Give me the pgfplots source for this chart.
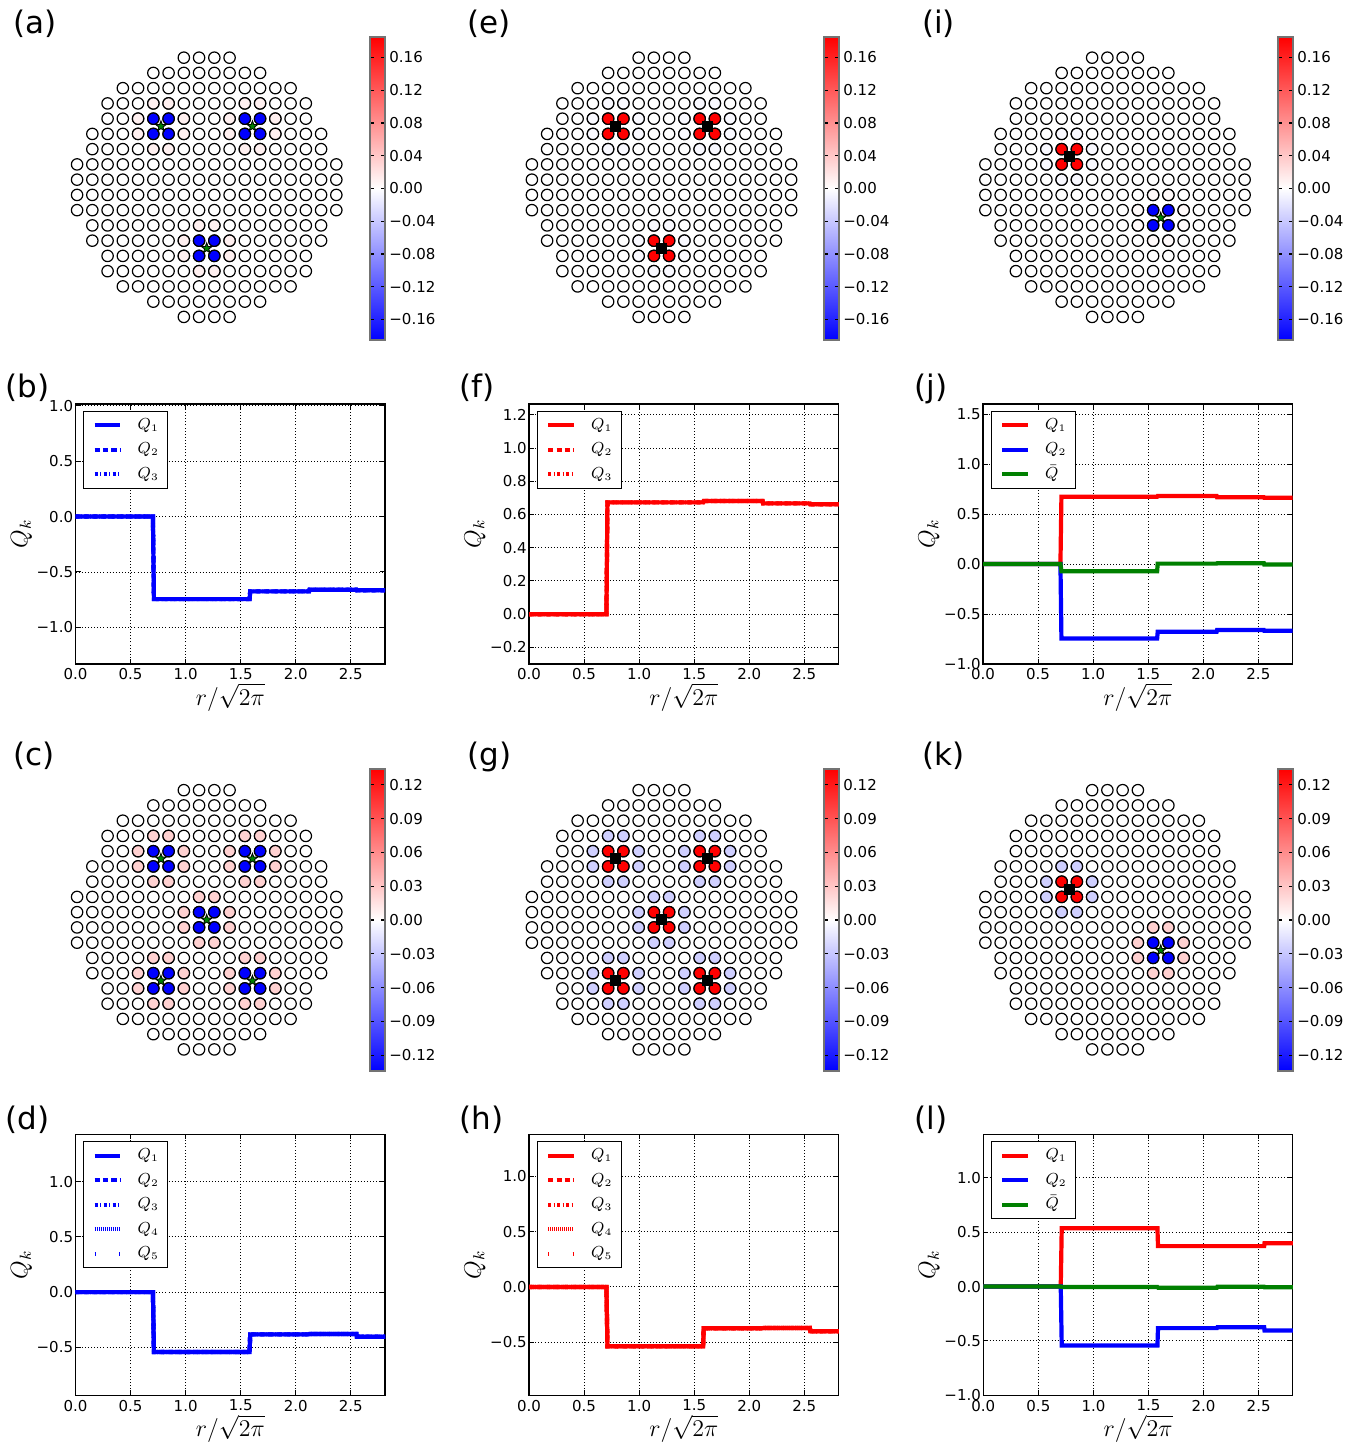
\documentclass[border=0pt]{standalone}
\usepackage{fontspec}
\setmainfont{DejaVu Sans}
\usepackage{pgfplots}
\usepackage{pgfplotstable}
\pgfplotsset{compat=1.18}
\usetikzlibrary{plotmarks}

\newcommand\tf{\fontsize{7.5}{9}\selectfont}
\newcommand\lf{\fontsize{12}{14}\selectfont}
\newcommand\pf{\fontsize{15.5}{18}\selectfont}
\newcommand\legf{\fontsize{7.8}{9}\selectfont}
\definecolor{mplgreen}{rgb}{0,0.5,0}

\pgfdeclareplotmark{fstar}{%
 \pgfpathmoveto{\pgfpointpolar{90}{\pgfplotmarksize}}%
 \pgfpathlineto{\pgfpointpolar{126}{0.4\pgfplotmarksize}}%
 \pgfpathlineto{\pgfpointpolar{162}{\pgfplotmarksize}}%
 \pgfpathlineto{\pgfpointpolar{198}{0.4\pgfplotmarksize}}%
 \pgfpathlineto{\pgfpointpolar{234}{\pgfplotmarksize}}%
 \pgfpathlineto{\pgfpointpolar{270}{0.4\pgfplotmarksize}}%
 \pgfpathlineto{\pgfpointpolar{306}{\pgfplotmarksize}}%
 \pgfpathlineto{\pgfpointpolar{342}{0.4\pgfplotmarksize}}%
 \pgfpathlineto{\pgfpointpolar{18}{\pgfplotmarksize}}%
 \pgfpathlineto{\pgfpointpolar{54}{0.4\pgfplotmarksize}}%
 \pgfpathclose
 \pgfusepathqfillstroke
}

% lattice sites
\pgfplotstableread[row sep=\\]{
x y\\
-1.5 8.5\\ -0.5 8.5\\ 0.5 8.5\\ 1.5 8.5\\
-3.5 7.5\\ -2.5 7.5\\ -1.5 7.5\\ -0.5 7.5\\ 0.5 7.5\\ 1.5 7.5\\ 2.5 7.5\\ 3.5 7.5\\
-5.5 6.5\\ -4.5 6.5\\ -3.5 6.5\\ -2.5 6.5\\ -1.5 6.5\\ -0.5 6.5\\ 0.5 6.5\\ 1.5 6.5\\ 2.5 6.5\\ 3.5 6.5\\ 4.5 6.5\\ 5.5 6.5\\
-6.5 5.5\\ -5.5 5.5\\ -4.5 5.5\\ -3.5 5.5\\ -2.5 5.5\\ -1.5 5.5\\ -0.5 5.5\\ 0.5 5.5\\ 1.5 5.5\\ 2.5 5.5\\ 3.5 5.5\\ 4.5 5.5\\ 5.5 5.5\\ 6.5 5.5\\
-6.5 4.5\\ -5.5 4.5\\ -4.5 4.5\\ -3.5 4.5\\ -2.5 4.5\\ -1.5 4.5\\ -0.5 4.5\\ 0.5 4.5\\ 1.5 4.5\\ 2.5 4.5\\ 3.5 4.5\\ 4.5 4.5\\ 5.5 4.5\\ 6.5 4.5\\
-7.5 3.5\\ -6.5 3.5\\ -5.5 3.5\\ -4.5 3.5\\ -3.5 3.5\\ -2.5 3.5\\ -1.5 3.5\\ -0.5 3.5\\ 0.5 3.5\\ 1.5 3.5\\ 2.5 3.5\\ 3.5 3.5\\ 4.5 3.5\\ 5.5 3.5\\ 6.5 3.5\\ 7.5 3.5\\
-7.5 2.5\\ -6.5 2.5\\ -5.5 2.5\\ -4.5 2.5\\ -3.5 2.5\\ -2.5 2.5\\ -1.5 2.5\\ -0.5 2.5\\ 0.5 2.5\\ 1.5 2.5\\ 2.5 2.5\\ 3.5 2.5\\ 4.5 2.5\\ 5.5 2.5\\ 6.5 2.5\\ 7.5 2.5\\
-8.5 1.5\\ -7.5 1.5\\ -6.5 1.5\\ -5.5 1.5\\ -4.5 1.5\\ -3.5 1.5\\ -2.5 1.5\\ -1.5 1.5\\ -0.5 1.5\\ 0.5 1.5\\ 1.5 1.5\\ 2.5 1.5\\ 3.5 1.5\\ 4.5 1.5\\ 5.5 1.5\\ 6.5 1.5\\ 7.5 1.5\\ 8.5 1.5\\
-8.5 0.5\\ -7.5 0.5\\ -6.5 0.5\\ -5.5 0.5\\ -4.5 0.5\\ -3.5 0.5\\ -2.5 0.5\\ -1.5 0.5\\ -0.5 0.5\\ 0.5 0.5\\ 1.5 0.5\\ 2.5 0.5\\ 3.5 0.5\\ 4.5 0.5\\ 5.5 0.5\\ 6.5 0.5\\ 7.5 0.5\\ 8.5 0.5\\
-8.5 -0.5\\ -7.5 -0.5\\ -6.5 -0.5\\ -5.5 -0.5\\ -4.5 -0.5\\ -3.5 -0.5\\ -2.5 -0.5\\ -1.5 -0.5\\ -0.5 -0.5\\ 0.5 -0.5\\ 1.5 -0.5\\ 2.5 -0.5\\ 3.5 -0.5\\ 4.5 -0.5\\ 5.5 -0.5\\ 6.5 -0.5\\ 7.5 -0.5\\ 8.5 -0.5\\
-8.5 -1.5\\ -7.5 -1.5\\ -6.5 -1.5\\ -5.5 -1.5\\ -4.5 -1.5\\ -3.5 -1.5\\ -2.5 -1.5\\ -1.5 -1.5\\ -0.5 -1.5\\ 0.5 -1.5\\ 1.5 -1.5\\ 2.5 -1.5\\ 3.5 -1.5\\ 4.5 -1.5\\ 5.5 -1.5\\ 6.5 -1.5\\ 7.5 -1.5\\ 8.5 -1.5\\
-7.5 -2.5\\ -6.5 -2.5\\ -5.5 -2.5\\ -4.5 -2.5\\ -3.5 -2.5\\ -2.5 -2.5\\ -1.5 -2.5\\ -0.5 -2.5\\ 0.5 -2.5\\ 1.5 -2.5\\ 2.5 -2.5\\ 3.5 -2.5\\ 4.5 -2.5\\ 5.5 -2.5\\ 6.5 -2.5\\ 7.5 -2.5\\
-7.5 -3.5\\ -6.5 -3.5\\ -5.5 -3.5\\ -4.5 -3.5\\ -3.5 -3.5\\ -2.5 -3.5\\ -1.5 -3.5\\ -0.5 -3.5\\ 0.5 -3.5\\ 1.5 -3.5\\ 2.5 -3.5\\ 3.5 -3.5\\ 4.5 -3.5\\ 5.5 -3.5\\ 6.5 -3.5\\ 7.5 -3.5\\
-6.5 -4.5\\ -5.5 -4.5\\ -4.5 -4.5\\ -3.5 -4.5\\ -2.5 -4.5\\ -1.5 -4.5\\ -0.5 -4.5\\ 0.5 -4.5\\ 1.5 -4.5\\ 2.5 -4.5\\ 3.5 -4.5\\ 4.5 -4.5\\ 5.5 -4.5\\ 6.5 -4.5\\
-6.5 -5.5\\ -5.5 -5.5\\ -4.5 -5.5\\ -3.5 -5.5\\ -2.5 -5.5\\ -1.5 -5.5\\ -0.5 -5.5\\ 0.5 -5.5\\ 1.5 -5.5\\ 2.5 -5.5\\ 3.5 -5.5\\ 4.5 -5.5\\ 5.5 -5.5\\ 6.5 -5.5\\
-5.5 -6.5\\ -4.5 -6.5\\ -3.5 -6.5\\ -2.5 -6.5\\ -1.5 -6.5\\ -0.5 -6.5\\ 0.5 -6.5\\ 1.5 -6.5\\ 2.5 -6.5\\ 3.5 -6.5\\ 4.5 -6.5\\ 5.5 -6.5\\
-3.5 -7.5\\ -2.5 -7.5\\ -1.5 -7.5\\ -0.5 -7.5\\ 0.5 -7.5\\ 1.5 -7.5\\ 2.5 -7.5\\ 3.5 -7.5\\
-1.5 -8.5\\ -0.5 -8.5\\ 0.5 -8.5\\ 1.5 -8.5\\
}\lattice

% site values for panels (a) and (e)
\pgfplotstableread[row sep=\\]{
x y a e\\
-3.5 4.5 -0.185 0.185\\ -2.5 4.5 -0.185 0.185\\ -3.5 3.5 -0.185 0.185\\ -2.5 3.5 -0.185 0.185\\
2.5 4.5 -0.185 0.185\\ 3.5 4.5 -0.185 0.185\\ 2.5 3.5 -0.185 0.185\\ 3.5 3.5 -0.185 0.185\\
-0.5 -3.5 -0.185 0.185\\ 0.5 -3.5 -0.185 0.185\\ -0.5 -4.5 -0.185 0.185\\ 0.5 -4.5 -0.185 0.185\\
-4.5 4.5 0.011 -0.004\\ -1.5 4.5 0.011 -0.004\\ -4.5 3.5 0.011 -0.004\\ -1.5 3.5 0.011 -0.004\\
-3.5 5.5 0.011 -0.004\\ -2.5 5.5 0.011 -0.004\\ -3.5 2.5 0.011 -0.004\\ -2.5 2.5 0.011 -0.004\\
1.5 4.5 0.011 -0.004\\ 4.5 4.5 0.011 -0.004\\ 1.5 3.5 0.011 -0.004\\ 4.5 3.5 0.011 -0.004\\
2.5 5.5 0.011 -0.004\\ 3.5 5.5 0.011 -0.004\\ 2.5 2.5 0.011 -0.004\\ 3.5 2.5 0.011 -0.004\\
-1.5 -3.5 0.011 -0.004\\ 1.5 -3.5 0.011 -0.004\\ -1.5 -4.5 0.011 -0.004\\ 1.5 -4.5 0.011 -0.004\\
-0.5 -2.5 0.011 -0.004\\ 0.5 -2.5 0.011 -0.004\\ -0.5 -5.5 0.011 -0.004\\ 0.5 -5.5 0.011 -0.004\\
}\tabAE

% site values for panels (c) and (g)
\pgfplotstableread[row sep=\\]{
x y c g\\
-3.5 4.5 -0.134 0.134\\ -2.5 4.5 -0.134 0.134\\ -3.5 3.5 -0.134 0.134\\ -2.5 3.5 -0.134 0.134\\
2.5 4.5 -0.134 0.134\\ 3.5 4.5 -0.134 0.134\\ 2.5 3.5 -0.134 0.134\\ 3.5 3.5 -0.134 0.134\\
-0.5 0.5 -0.134 0.134\\ 0.5 0.5 -0.134 0.134\\ -0.5 -0.5 -0.134 0.134\\ 0.5 -0.5 -0.134 0.134\\
-3.5 -3.5 -0.134 0.134\\ -2.5 -3.5 -0.134 0.134\\ -3.5 -4.5 -0.134 0.134\\ -2.5 -4.5 -0.134 0.134\\
2.5 -3.5 -0.134 0.134\\ 3.5 -3.5 -0.134 0.134\\ 2.5 -4.5 -0.134 0.134\\ 3.5 -4.5 -0.134 0.134\\
-4.5 4.5 0.024 -0.025\\ -1.5 4.5 0.024 -0.025\\ -4.5 3.5 0.024 -0.025\\ -1.5 3.5 0.024 -0.025\\
-3.5 5.5 0.024 -0.025\\ -2.5 5.5 0.024 -0.025\\ -3.5 2.5 0.024 -0.025\\ -2.5 2.5 0.024 -0.025\\
1.5 4.5 0.024 -0.025\\ 4.5 4.5 0.024 -0.025\\ 1.5 3.5 0.024 -0.025\\ 4.5 3.5 0.024 -0.025\\
2.5 5.5 0.024 -0.025\\ 3.5 5.5 0.024 -0.025\\ 2.5 2.5 0.024 -0.025\\ 3.5 2.5 0.024 -0.025\\
-1.5 0.5 0.024 -0.025\\ 1.5 0.5 0.024 -0.025\\ -1.5 -0.5 0.024 -0.025\\ 1.5 -0.5 0.024 -0.025\\
-0.5 1.5 0.024 -0.025\\ 0.5 1.5 0.024 -0.025\\ -0.5 -1.5 0.024 -0.025\\ 0.5 -1.5 0.024 -0.025\\
-4.5 -3.5 0.024 -0.025\\ -1.5 -3.5 0.024 -0.025\\ -4.5 -4.5 0.024 -0.025\\ -1.5 -4.5 0.024 -0.025\\
-3.5 -2.5 0.024 -0.025\\ -2.5 -2.5 0.024 -0.025\\ -3.5 -5.5 0.024 -0.025\\ -2.5 -5.5 0.024 -0.025\\
1.5 -3.5 0.024 -0.025\\ 4.5 -3.5 0.024 -0.025\\ 1.5 -4.5 0.024 -0.025\\ 4.5 -4.5 0.024 -0.025\\
2.5 -2.5 0.024 -0.025\\ 3.5 -2.5 0.024 -0.025\\ 2.5 -5.5 0.024 -0.025\\ 3.5 -5.5 0.024 -0.025\\
}\tabCG

% site values for panels (i) and (k)
\pgfplotstableread[row sep=\\]{
x y i k\\
-3.5 2.5 0.185 0.134\\ -2.5 2.5 0.185 0.134\\ -3.5 1.5 0.185 0.134\\ -2.5 1.5 0.185 0.134\\
2.5 -1.5 -0.185 -0.134\\ 3.5 -1.5 -0.185 -0.134\\ 2.5 -2.5 -0.185 -0.134\\ 3.5 -2.5 -0.185 -0.134\\
-4.5 2.5 -0.004 -0.025\\ -1.5 2.5 -0.004 -0.025\\ -4.5 1.5 -0.004 -0.025\\ -1.5 1.5 -0.004 -0.025\\
-3.5 3.5 -0.004 -0.025\\ -2.5 3.5 -0.004 -0.025\\ -3.5 0.5 -0.004 -0.025\\ -2.5 0.5 -0.004 -0.025\\
1.5 -1.5 0.004 0.025\\ 4.5 -1.5 0.004 0.025\\ 1.5 -2.5 0.004 0.025\\ 4.5 -2.5 0.004 0.025\\
2.5 -0.5 0.004 0.025\\ 3.5 -0.5 0.004 0.025\\ 2.5 -3.5 0.004 0.025\\ 3.5 -3.5 0.004 0.025\\
}\tabIK

\pgfplotsset{
  latt/.style={
    scale only axis, width=137.25pt, height=137.25pt,
    xmin=-9, xmax=9, ymin=-9, ymax=9, hide axis, anchor=center, clip=false,
    colormap={bwr}{rgb=(0,0,1) rgb=(1,1,1) rgb=(1,0,0)},
    colorbar,
    colorbar shift/.style={},
    colorbar style={
      at={(parent axis.north east)}, anchor=north west,
      scale only axis, width=7.5pt,
      yticklabel style={font=\tf, inner sep=0pt, xshift=2pt},
      tick align=inside, major tick length=2pt,
      ytick style={black, line width=0.6pt},
      axis line style={draw=black!55, line width=0.6pt},
    },
  },
  cbA/.style={point meta min=-0.185, point meta max=0.185,
    colorbar style={height=151.5pt,
      ytick={-0.16,-0.12,-0.08,-0.04,0,0.04,0.08,0.12,0.16},
      yticklabels={−0.16,−0.12,−0.08,−0.04,0.00,0.04,0.08,0.12,0.16}}},
  cbC/.style={point meta min=-0.134, point meta max=0.134,
    colorbar style={height=151pt,
      ytick={-0.12,-0.09,-0.06,-0.03,0,0.03,0.06,0.09,0.12},
      yticklabels={−0.12,−0.09,−0.06,−0.03,0.00,0.03,0.06,0.09,0.12}}},
  circ/.style={only marks, mark=*, mark size=2.85pt,
    mark options={draw=black, fill=white, line width=0.6pt}},
  colpts/.style={scatter, only marks, mark=*, mark size=2.85pt, point meta=explicit,
    scatter/use mapped color={draw=black, fill=mapped color, line width=0.6pt}},
  stars/.style={only marks, mark=fstar, mark size=2.8pt,
    mark options={draw=black, fill=mplgreen, line width=0.4pt}},
  sqs/.style={only marks, mark=square*, mark size=2.5pt,
    mark options={draw=black, fill=black}},
  lp/.style={
    scale only axis, width=154.75pt, anchor=north west,
    xmin=0, xmax=2.81,
    xtick={0,0.5,1,1.5,2,2.5}, xticklabels={0.0,0.5,1.0,1.5,2.0,2.5},
    grid=major, grid style={black, line width=0.45pt, dash pattern=on 0.45pt off 1.1pt},
    tick align=inside, major tick length=2.5pt, tick style={black, line width=0.5pt},
    axis line style={black, line width=0.6pt},
    xticklabel style={font=\tf, inner sep=0pt, yshift=-2.1pt},
    yticklabel style={font=\tf, inner sep=0pt, xshift=-1pt},
    xlabel={$r/\sqrt{2\pi}$}, ylabel={$Q_k$},
    xlabel style={font=\lf, at={(axis description cs:0.5,0)}, anchor=base, yshift=-20.5pt},
    ylabel style={font=\lf, at={(axis description cs:-0.1745,0.5)}, anchor=center},
    legend cell align=left,
    legend style={draw=black, line width=0.5pt, fill=white, at={(0,1)}, anchor=north west,
      xshift=3.75pt, yshift=-3.25pt, inner xsep=4.5pt, inner ysep=3.65pt,
      row sep=5.25pt, column sep=7.7pt,
      nodes={font=\legf, inner sep=0pt, text height=5.5pt, text depth=1.5pt}},
    legend image code/.code={\draw[#1] (0pt,0pt) -- (12.8pt,0pt);},
    every axis plot/.append style={line width=2.1pt},
  },
  q2/.style={dash pattern=on 2.6pt off 1.6pt},
  q3/.style={dash pattern=on 1.6pt off 1.2pt on 0.5pt off 1.2pt},
  q4/.style={dash pattern=on 0.5pt off 0.5pt},
  q5/.style={dash pattern=on 0.6pt off 11.6pt},
}

\begin{document}
\begin{tikzpicture}
\useasboundingbox (0,0) rectangle (683.5pt,-724.5pt);

% ---------- (a)
\begin{axis}[latt, cbA, at={(103.35pt,-93.65pt)}, colorbar style={xshift=13.03pt, yshift=6.53pt}]
\addplot[circ] table {\lattice};
\addplot[colpts] table[meta=a] {\tabAE};
\addplot[stars] coordinates {(-3,4) (3,4) (0,-4)};
\end{axis}
% ---------- (e)
\begin{axis}[latt, cbA, at={(330.75pt,-93.65pt)}, colorbar style={xshift=12.63pt, yshift=6.53pt}]
\addplot[circ] table {\lattice};
\addplot[colpts] table[meta=e] {\tabAE};
\addplot[sqs] coordinates {(-3,4) (3,4) (0,-4)};
\end{axis}
% ---------- (i)
\begin{axis}[latt, cbA, at={(557.5pt,-93.65pt)}, colorbar style={xshift=12.88pt, yshift=6.53pt}]
\addplot[circ] table {\lattice};
\addplot[colpts] table[meta=i] {\tabIK};
\addplot[sqs] coordinates {(-3,2)};
\addplot[stars] coordinates {(3,-2)};
\end{axis}
% ---------- (c)
\begin{axis}[latt, cbC, at={(103.35pt,-459.9pt)}, colorbar style={xshift=13.03pt, yshift=6.78pt}]
\addplot[circ] table {\lattice};
\addplot[colpts] table[meta=c] {\tabCG};
\addplot[stars] coordinates {(-3,4) (3,4) (0,0) (-3,-4) (3,-4)};
\end{axis}
% ---------- (g)
\begin{axis}[latt, cbC, at={(330.75pt,-459.9pt)}, colorbar style={xshift=12.63pt, yshift=6.78pt}]
\addplot[circ] table {\lattice};
\addplot[colpts] table[meta=g] {\tabCG};
\addplot[sqs] coordinates {(-3,4) (3,4) (0,0) (-3,-4) (3,-4)};
\end{axis}
% ---------- (k)
\begin{axis}[latt, cbC, at={(557.5pt,-459.9pt)}, colorbar style={xshift=12.88pt, yshift=6.78pt}]
\addplot[circ] table {\lattice};
\addplot[colpts] table[meta=k] {\tabIK};
\addplot[sqs] coordinates {(-3,2)};
\addplot[stars] coordinates {(3,-2)};
\end{axis}

% ---------- (b)
\begin{axis}[lp, at={(37.75pt,-202pt)}, height=130pt, ymin=-1.33, ymax=1.015,
  ytick={-1,-0.5,0,0.5,1}, yticklabels={−1.0,−0.5,0.0,0.5,1.0}]
\addplot[blue] coordinates {(0,0) (0.703,0) (0.712,-0.745) (1.581,-0.745) (1.586,-0.675) (2.121,-0.675) (2.125,-0.66) (2.55,-0.66) (2.553,-0.665) (2.81,-0.665)};
\addlegendentry{$Q_1$}
\addplot[blue,q2] coordinates {(0,0) (0.703,0) (0.712,-0.745) (1.581,-0.745) (1.586,-0.675) (2.121,-0.675) (2.125,-0.66) (2.55,-0.66) (2.553,-0.665) (2.81,-0.665)};
\addlegendentry{$Q_2$}
\addplot[blue,q3] coordinates {(0,0) (0.703,0) (0.712,-0.745) (1.581,-0.745) (1.586,-0.675) (2.121,-0.675) (2.125,-0.66) (2.55,-0.66) (2.553,-0.665) (2.81,-0.665)};
\addlegendentry{$Q_3$}
\end{axis}
% ---------- (f)
\begin{axis}[lp, at={(264.5pt,-202pt)}, height=130pt, ymin=-0.3, ymax=1.265,
  ytick={-0.2,0,0.2,0.4,0.6,0.8,1.0,1.2}, yticklabels={−0.2,0.0,0.2,0.4,0.6,0.8,1.0,1.2}]
\addplot[red] coordinates {(0,0) (0.703,0) (0.712,0.673) (1.581,0.673) (1.586,0.681) (2.121,0.681) (2.125,0.667) (2.55,0.667) (2.553,0.662) (2.81,0.662)};
\addlegendentry{$Q_1$}
\addplot[red,q2] coordinates {(0,0) (0.703,0) (0.712,0.673) (1.581,0.673) (1.586,0.681) (2.121,0.681) (2.125,0.667) (2.55,0.667) (2.553,0.662) (2.81,0.662)};
\addlegendentry{$Q_2$}
\addplot[red,q3] coordinates {(0,0) (0.703,0) (0.712,0.673) (1.581,0.673) (1.586,0.681) (2.121,0.681) (2.125,0.667) (2.55,0.667) (2.553,0.662) (2.81,0.662)};
\addlegendentry{$Q_3$}
\end{axis}
% ---------- (j)
\begin{axis}[lp, at={(491.5pt,-202pt)}, height=130pt, ymin=-1.0, ymax=1.6,
  ytick={-1,-0.5,0,0.5,1,1.5}, yticklabels={−1.0,−0.5,0.0,0.5,1.0,1.5}]
\addplot[red] coordinates {(0,0) (0.703,0) (0.712,0.673) (1.581,0.673) (1.586,0.681) (2.121,0.681) (2.125,0.667) (2.55,0.667) (2.553,0.662) (2.81,0.662)};
\addlegendentry{$Q_1$}
\addplot[blue] coordinates {(0,0) (0.703,0) (0.712,-0.745) (1.581,-0.745) (1.586,-0.677) (2.121,-0.677) (2.125,-0.66) (2.55,-0.66) (2.553,-0.667) (2.81,-0.667)};
\addlegendentry{$Q_2$}
\addplot[mplgreen] coordinates {(0,0) (0.703,0) (0.712,-0.072) (1.581,-0.072) (1.586,0.004) (2.121,0.004) (2.125,0.007) (2.55,0.007) (2.553,-0.004) (2.81,-0.004)};
\addlegendentry{$\bar{Q}$}
\end{axis}
% ---------- (d)
\begin{axis}[lp, at={(37.75pt,-567.15pt)}, height=130.5pt, ymin=-0.935, ymax=1.43,
  ytick={-0.5,0,0.5,1}, yticklabels={−0.5,0.0,0.5,1.0}]
\addplot[blue] coordinates {(0,0) (0.703,0) (0.712,-0.543) (1.581,-0.543) (1.586,-0.383) (2.121,-0.383) (2.125,-0.379) (2.55,-0.379) (2.553,-0.405) (2.81,-0.405)};
\addlegendentry{$Q_1$}
\addplot[blue,q2] coordinates {(0,0) (0.703,0) (0.712,-0.543) (1.581,-0.543) (1.586,-0.383) (2.121,-0.383) (2.125,-0.379) (2.55,-0.379) (2.553,-0.405) (2.81,-0.405)};
\addlegendentry{$Q_2$}
\addplot[blue,q3] coordinates {(0,0) (0.703,0) (0.712,-0.543) (1.581,-0.543) (1.586,-0.383) (2.121,-0.383) (2.125,-0.379) (2.55,-0.379) (2.553,-0.405) (2.81,-0.405)};
\addlegendentry{$Q_3$}
\addplot[blue,q4] coordinates {(0,0) (0.703,0) (0.712,-0.543) (1.581,-0.543) (1.586,-0.383) (2.121,-0.383) (2.125,-0.379) (2.55,-0.379) (2.553,-0.405) (2.81,-0.405)};
\addlegendentry{$Q_4$}
\addplot[blue,q5] coordinates {(0,0) (0.703,0) (0.712,-0.543) (1.581,-0.543) (1.586,-0.383) (2.121,-0.383) (2.125,-0.379) (2.55,-0.379) (2.553,-0.405) (2.81,-0.405)};
\addlegendentry{$Q_5$}
\end{axis}
% ---------- (h)
\begin{axis}[lp, at={(264.5pt,-567.15pt)}, height=130.5pt, ymin=-0.98, ymax=1.38,
  ytick={-0.5,0,0.5,1}, yticklabels={−0.5,0.0,0.5,1.0}]
\addplot[red] coordinates {(0,0) (0.703,0) (0.712,-0.536) (1.581,-0.536) (1.586,-0.373) (2.121,-0.373) (2.125,-0.372) (2.55,-0.372) (2.553,-0.40) (2.81,-0.40)};
\addlegendentry{$Q_1$}
\addplot[red,q2] coordinates {(0,0) (0.703,0) (0.712,-0.536) (1.581,-0.536) (1.586,-0.373) (2.121,-0.373) (2.125,-0.372) (2.55,-0.372) (2.553,-0.40) (2.81,-0.40)};
\addlegendentry{$Q_2$}
\addplot[red,q3] coordinates {(0,0) (0.703,0) (0.712,-0.536) (1.581,-0.536) (1.586,-0.373) (2.121,-0.373) (2.125,-0.372) (2.55,-0.372) (2.553,-0.40) (2.81,-0.40)};
\addlegendentry{$Q_3$}
\addplot[red,q4] coordinates {(0,0) (0.703,0) (0.712,-0.536) (1.581,-0.536) (1.586,-0.373) (2.121,-0.373) (2.125,-0.372) (2.55,-0.372) (2.553,-0.40) (2.81,-0.40)};
\addlegendentry{$Q_4$}
\addplot[red,q5] coordinates {(0,0) (0.703,0) (0.712,-0.536) (1.581,-0.536) (1.586,-0.373) (2.121,-0.373) (2.125,-0.372) (2.55,-0.372) (2.553,-0.40) (2.81,-0.40)};
\addlegendentry{$Q_5$}
\end{axis}
% ---------- (l)
\begin{axis}[lp, at={(491.65pt,-567.15pt)}, height=130.5pt, ymin=-1.0, ymax=1.4,
  ytick={-1,-0.5,0,0.5,1}, yticklabels={−1.0,−0.5,0.0,0.5,1.0}]
\addplot[red] coordinates {(0,0) (0.703,0) (0.712,0.537) (1.581,0.537) (1.586,0.372) (2.121,0.372) (2.125,0.372) (2.55,0.372) (2.553,0.398) (2.81,0.398)};
\addlegendentry{$Q_1$}
\addplot[blue] coordinates {(0,0) (0.703,0) (0.712,-0.541) (1.581,-0.541) (1.586,-0.382) (2.121,-0.382) (2.125,-0.374) (2.55,-0.374) (2.553,-0.404) (2.81,-0.404)};
\addlegendentry{$Q_2$}
\addplot[mplgreen] coordinates {(0,0) (0.703,0) (0.712,-0.004) (1.581,-0.004) (1.586,-0.01) (2.121,-0.01) (2.125,-0.002) (2.55,-0.002) (2.553,-0.006) (2.81,-0.006)};
\addlegendentry{$\bar{Q}$}
\end{axis}

% panel labels
\foreach \lab/\x/\y in {(a)/6.3/-16.6, (e)/233.55/-16.6, (i)/460.8/-16.6,
  (b)/2.45/-198.8, (f)/229.7/-198.8, (j)/456.95/-198.8,
  (c)/6.3/-382.8, (g)/233.55/-382.8, (k)/460.8/-382.8,
  (d)/2.45/-564.8, (h)/229.7/-564.8, (l)/456.95/-564.8}
  \node[anchor=base west, font=\pf, inner sep=0pt] at (\x pt,\y pt) {\lab};
\end{tikzpicture}
\end{document}
